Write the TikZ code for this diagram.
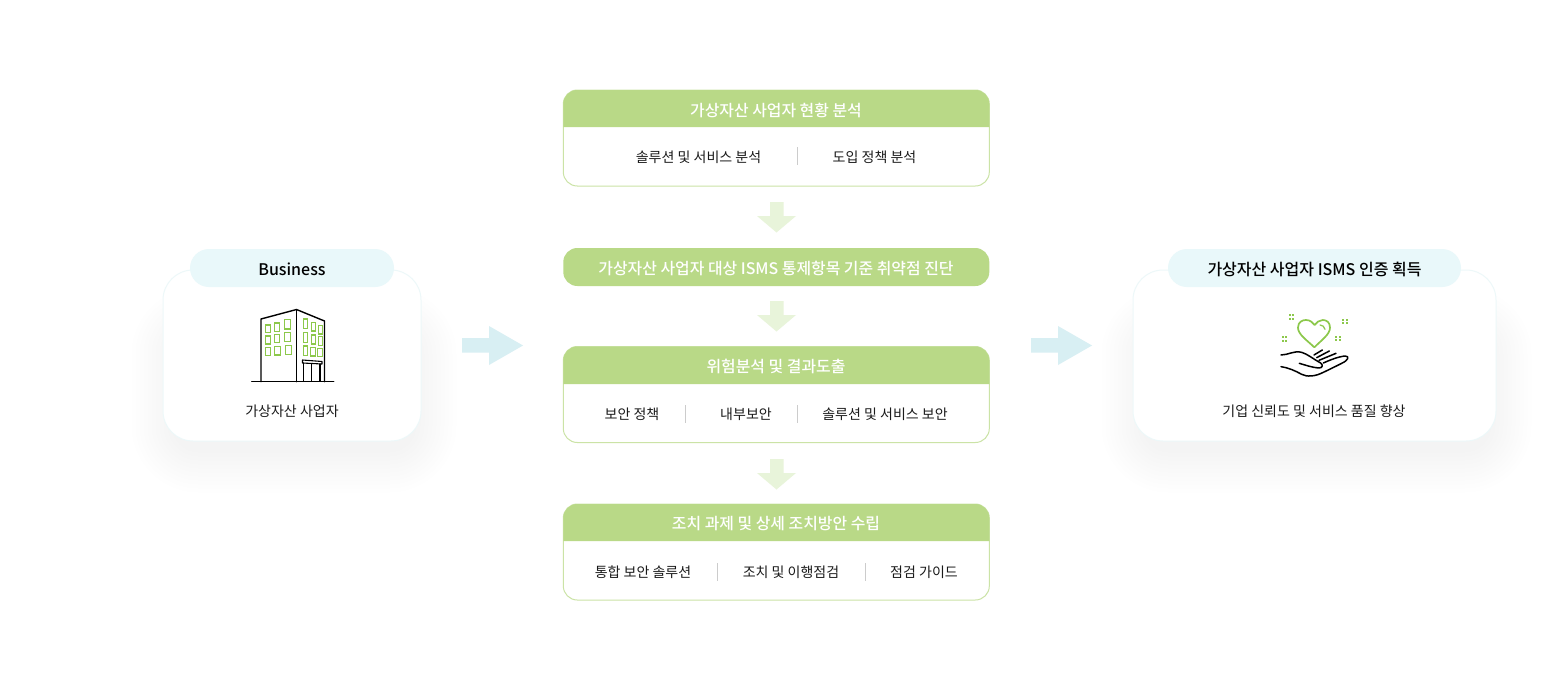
\documentclass[tikz,border=0pt]{standalone}
\usepackage{fontspec}
\setmainfont{Noto Sans CJK KR}
\newfontfamily\krmed{Noto Sans CJK KR Medium}
\definecolor{hdr}{HTML}{B9D987}
\definecolor{bdr}{HTML}{CBE3A6}
\definecolor{pill}{HTML}{E9F8FA}
\definecolor{cardline}{HTML}{EDF8F9}
\definecolor{side}{HTML}{D8EFF3}
\definecolor{flow}{HTML}{E8F4DA}
\definecolor{sep}{HTML}{CCCCCC}
\definecolor{ink}{HTML}{1A1A1A}
\definecolor{leaf}{HTML}{8CC84B}
\tikzset{
  x=1pt,y=-1pt,
  box/.style={draw=bdr,line width=1pt,fill=white,rounded corners=14pt,minimum width=426pt,inner sep=0pt,outer sep=0pt},
  hfill/.style={fill=hdr},
  title/.style={text=white,font=\krmed\fontsize{15.9}{18}\selectfont,inner sep=0pt,anchor=center},
  item/.style={text=ink,font=\fontsize{14}{16}\selectfont,inner sep=0pt,anchor=center},
  divider/.style={draw=sep,line width=1pt},
  card/.style={draw=cardline,line width=1pt,fill=white,rounded corners=30pt,inner sep=0pt,outer sep=0pt},
  pilltag/.style={fill=pill,rounded corners=19pt,inner sep=0pt,outer sep=0pt,minimum height=38pt},
  pilltext/.style={text=black,font=\krmed\fontsize{16}{18}\selectfont,inner sep=0pt,anchor=center},
  sidearrow/.style={fill=side},
  flowarrow/.style={fill=flow},
  inkline/.style={draw=black,line width=1.4pt,line cap=round,line join=round},
  win/.style={draw=leaf,line width=1.5pt},
  spark/.style={fill=leaf},
}
\newcommand{\softshadow}[4]{%
  \foreach \d/\g in {33/254,29/253,25/252,21/251,17/250,13/249,9/248,5/247,1/246,-3/245,-7/244}{
    \pgfmathsetmacro{\rr}{max(\d+34,10)}
    \definecolor{shd}{RGB}{\g,\g,\g}
    \fill[shd,rounded corners=\rr pt] (#1+2-\d,#2+26-\d) rectangle (#3+2+\d,#4+18+\d);
  }}
\newcommand{\sparkle}[2]{%
  \foreach \a/\b in {-1.7/-1.7,1.7/-1.7,-1.7/1.7,1.7/1.7}{
    \fill[spark] (#1+\a-1,#2+\b-1) rectangle ++(2,2);
  }}
\begin{document}
\begin{tikzpicture}
\useasboundingbox (0,0) rectangle (1553,691);
\fill[white] (0,0) rectangle (1553,691);

% --- left card
\softshadow{163}{295}{421}{441}
\node[card,minimum width=258pt,minimum height=171pt] (leftcard) at (292,355.5) {};
\node[pilltag,minimum width=204pt] (leftpill) at (292,268) {};
\node[pilltext] (lefttitle) at (292,269) {Business};
\node[item] (leftlabel) at (292,411.5) {가상자산 사업자};

% building icon
\begin{scope}
\draw[inkline] (251.7,381.7) -- (333.7,381.7);
\draw[inkline] (261,381.7) -- (261,319) -- (296.5,309.5) -- (324.5,321) -- (324.5,381.7);
\draw[inkline] (296.5,309.5) -- (296.5,381.7);
\draw[inkline,line width=1.1pt] (302.5,360) -- (322,361.5) -- (322,364) -- (302.5,363) -- cycle;
\draw[inkline,line width=1.1pt] (303.5,363) -- (303.5,381) (311.5,364) -- (311.5,381) (320,364) -- (320,381);
\foreach \xa/\ya/\xb/\yb in {
 265.5/325/270.5/332.5, 274.5/323/279.5/331.5, 284.5/319.5/290.5/329,
 265.5/336/270.5/344, 274.5/334.5/279.5/342.5, 284.5/332.5/290.5/341.5,
 265.5/347.5/270.5/355.5, 274.5/346.5/280.5/355, 285.5/345.5/291.5/354.5,
 303.5/319/307.5/328.5, 311.5/322.5/315.5/331, 318.5/325.5/322.5/334,
 303.5/332.5/307.5/342.3, 311.5/335/315.5/344, 318.5/336.7/322.5/345.3,
 303.5/346/307.5/355.3, 310.5/347.3/315.5/356, 317.5/348.7/322.5/356.7}{
  \draw[win] (\xa,\ya) rectangle (\xb,\yb);
}
\end{scope}

% --- right card
\softshadow{1133}{295}{1496}{441}
\node[card,minimum width=363pt,minimum height=171pt] (rightcard) at (1314.5,355.5) {};
\node[pilltag,minimum width=293pt] (rightpill) at (1314.5,268) {};
\node[pilltext] (righttitle) at (1314.5,269) {가상자산 사업자 ISMS 인증 획득};
\node[item] (rightlabel) at (1314,411.5) {기업 신뢰도 및 서비스 품질 향상};

% heart and hand icon
\begin{scope}[shift={(1270,305)},x=0.3333pt,y=-0.3333pt]
\draw[leaf,line width=1.7pt,line join=round]
  (133,127) .. controls (110,105) and (84,88) .. (84,68)
  .. controls (84,50) and (98,45) .. (108,45)
  .. controls (120,45) and (128,52) .. (134,60)
  .. controls (140,52) and (148,45) .. (158,45)
  .. controls (170,45) and (180,52) .. (180,68)
  .. controls (180,88) and (155,105) .. (133,127) -- cycle;
\draw[leaf,line width=1.2pt,line cap=round] (150,60) .. controls (158,60) and (163,65) .. (165,73);
\begin{scope}[every path/.style={line width=1.5pt,line cap=round,line join=round,draw=black}]
\draw (33,150) .. controls (55,150) and (72,136) .. (95,142)
  .. controls (112,147) and (130,162) .. (152,174)
  .. controls (160,180) and (158,190) .. (145,189)
  .. controls (125,187) and (105,180) .. (88,175);
\draw (132,150) -- (157,135);
\draw (140,158) -- (178,138);
\draw (147,166) -- (198,145);
\draw (160,174) .. controls (180,165) and (205,155) .. (225,153)
  .. controls (240,153) and (235,166) .. (215,175)
  .. controls (195,185) and (175,195) .. (160,202)
  .. controls (135,215) and (110,216) .. (95,208)
  .. controls (75,197) and (55,188) .. (33,185);
\end{scope}
\end{scope}
\sparkle{1291.3}{317}
\sparkle{1345}{321.5}
\sparkle{1284.3}{339}
\sparkle{1338}{338.7}

% --- side arrows
\fill[sidearrow] (462,338) -- (489,338) -- (489,326) -- (523,345.5) -- (489,365) -- (489,352.5) -- (462,352.5) -- cycle;
\fill[sidearrow] (1031,338) -- (1058,338) -- (1058,326) -- (1092,345.5) -- (1058,365) -- (1058,352.5) -- (1031,352.5) -- cycle;

% --- box 1
\node[box,minimum height=96pt] (box1) at (776.3,138) {};
\fill[hfill] (563.3,127) {[rounded corners=14pt] -- (563.3,90) -- (989.3,90)} -- (989.3,127) -- cycle;
\node[title] (t1) at (776,110) {가상자산 사업자 현황 분석};
\node[item] (a1) at (698.5,157) {솔루션 및 서비스 분석};
\node[item] (a2) at (874.5,157) {도입 정책 분석};
\draw[divider] (797.5,147) -- (797.5,165);

% --- box 2
\node[box,draw=none,fill=hdr,minimum height=38pt] (box2) at (776.3,267) {};
\node[title] (t2) at (776,268) {가상자산 사업자 대상 ISMS 통제항목 기준 취약점 진단};

% --- box 3
\node[box,minimum height=96pt] (box3) at (776.3,394.5) {};
\fill[hfill] (563.3,384) {[rounded corners=14pt] -- (563.3,346.5) -- (989.3,346.5)} -- (989.3,384) -- cycle;
\node[title] (t3) at (776,366.5) {위험분석 및 결과도출};
\node[item] (b1) at (632,414.5) {보안 정책};
\node[item] (b2) at (746,414.5) {내부보안};
\node[item] (b3) at (885,414.5) {솔루션 및 서비스 보안};
\draw[divider] (685.5,405) -- (685.5,423);
\draw[divider] (797.5,405) -- (797.5,423);

% --- box 4
\node[box,minimum height=96pt] (box4) at (776.3,552) {};
\fill[hfill] (563.3,541) {[rounded corners=14pt] -- (563.3,504) -- (989.3,504)} -- (989.3,541) -- cycle;
\node[title] (t4) at (776,524) {조치 과제 및 상세 조치방안 수립};
\node[item] (c1) at (643,572.5) {통합 보안 솔루션};
\node[item] (c2) at (791,572.5) {조치 및 이행점검};
\node[item] (c3) at (924,572.5) {점검 가이드};
\draw[divider] (717.5,563) -- (717.5,581);
\draw[divider] (865.5,563) -- (865.5,581);

% --- flow arrows
\fill[flowarrow] (770,202) -- (783.5,202) -- (783.5,216) -- (796,216) -- (776.5,232.5) -- (757,216) -- (770,216) -- cycle;
\fill[flowarrow] (770,301) -- (783.5,301) -- (783.5,315) -- (796,315) -- (776.5,331.5) -- (757,315) -- (770,315) -- cycle;
\fill[flowarrow] (770,459) -- (783.5,459) -- (783.5,473) -- (796,473) -- (776.5,489.5) -- (757,473) -- (770,473) -- cycle;
\end{tikzpicture}
\end{document}
